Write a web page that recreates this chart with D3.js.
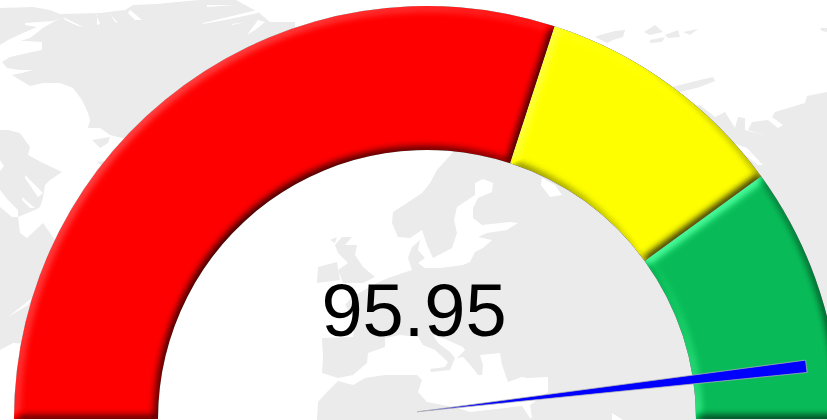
<!DOCTYPE html>
<html>
<head>
<meta charset="utf-8">
<script src="https://cdn.jsdelivr.net/npm/d3@7/dist/d3.min.js"></script>
<style>
html,body{margin:0;padding:0;background:#fff;overflow:hidden}
svg{display:block}
</style>
</head>
<body>
<svg id="c" width="827" height="420"></svg>
<script>
// gauge data
const bandStops = [0, 60, 80, 100];
const bandColors = ["#ff0000", "#ffff00", "#08bc58"];
const gaugeValue = 95.95;
const gaugeLabel = "95.95";

// decorative backdrop: land silhouettes
const landShapes = [
  [[0,8],[33,7],[50,10],[60,14],[100,13],[125,10],[133,5],[157,4],[177,2],[200,0],[236,0],[258,12],[270,22],[295,22],[295,60],[130,140],[110,135],[100,128],[88,128],[90,120],[88,113],[82,100],[73,88],[60,83],[43,83],[30,86],[20,80],[12,75],[22,73],[33,70],[20,70],[7,68],[2,62],[10,57],[32,52],[42,50],[42,42],[10,40],[0,45]],
  [[92,140],[110,137],[108,143],[100,148]],
  [[97,162],[110,160],[103,167]],
  [[0,130],[8,130],[20,133],[30,147],[28,155],[43,163],[62,172],[50,180],[45,185],[43,198],[40,207],[35,210],[18,217],[20,233],[27,238],[43,223],[55,240],[100,260],[40,345],[13,343],[0,350]],
  [[600,35],[615,31],[625,30],[623,37],[613,40],[607,43],[595,37]],
  [[644,32],[655,25],[663,32],[650,35]],
  [[650,40],[665,37],[662,42],[650,43]],
  [[665,35],[678,30],[680,37],[668,38]],
  [[683,32],[698,29],[690,35]],
  [[820,28],[827,28],[827,32],[822,31]],
  [[672,87],[700,80],[713,77],[715,81],[700,87],[680,92]],
  [[318,267],[337,262],[340,280],[317,283]],
  [[342,237],[352,237],[345,245],[357,245],[355,255],[363,267],[375,277],[363,283],[343,283],[338,270],[348,263],[338,253],[335,245]],
  [[330,240],[337,237],[335,243]],
  [[827,92],[807,96],[805,103],[775,112],[772,117],[783,125],[778,128],[768,120],[752,122],[748,130],[763,135],[745,130],[745,118],[738,117],[735,128],[725,112],[715,117],[700,105],[560,130],[455,150],[437,170],[430,183],[422,193],[407,203],[393,212],[392,223],[398,237],[410,238],[422,230],[427,245],[433,258],[425,258],[418,250],[420,240],[412,247],[408,258],[412,270],[388,278],[377,283],[352,297],[345,305],[355,320],[353,337],[322,338],[323,358],[322,373],[338,378],[338,381],[327,392],[318,402],[317,420],[827,420]]
];
const seaShapes = [
  [[25,23],[53,21],[60,18],[43,28],[30,38],[17,42],[0,48],[0,45],[8,40],[23,33],[37,27],[25,25]],
  [[63,17],[83,27],[78,26],[65,20]],
  [[96,14],[100,24],[97,25],[97,15]],
  [[110,14],[118,23],[115,22]],
  [[130,10],[142,20],[135,20],[128,13]],
  [[203,23],[257,10],[258,13],[225,20],[203,24]],
  [[207,5],[235,5],[207,7]],
  [[232,24],[245,22],[232,25]],
  [[247,35],[258,20],[265,22],[255,30]],
  [[25,175],[43,193],[38,197],[25,178]],
  [[22,197],[35,208],[30,208],[22,200]],
  [[0,190],[8,200],[18,210],[18,217],[12,217],[0,207]],
  [[0,160],[4,166],[0,171]],
  [[8,317],[32,298],[28,305]],
  [[433,258],[452,248],[457,233],[454,220],[457,207],[475,195],[475,183],[483,179],[493,183],[492,192],[478,198],[473,208],[473,218],[482,225],[510,222],[518,223],[507,230],[487,233],[478,237],[492,240],[483,248],[475,252],[470,262],[463,265],[440,268],[425,268],[418,263],[425,258]],
  [[542,178],[555,185],[562,195],[550,197],[541,185]],
  [[733,143],[747,148],[763,165],[758,165],[745,155]],
  [[338,378],[353,375],[367,363],[368,353],[385,347],[385,338],[400,335],[418,337],[423,345],[435,350],[448,362],[445,367],[430,369],[431,372],[450,370],[455,358],[450,352],[438,343],[433,335],[445,339],[463,347],[465,350],[457,358],[463,357],[472,367],[478,375],[482,375],[483,365],[480,355],[500,353],[502,365],[508,382],[522,377],[527,378],[548,377],[548,392],[530,405],[532,418],[530,418],[522,406],[470,412],[458,408],[427,402],[418,392],[422,380],[417,375],[400,375],[385,375],[365,378],[353,385],[338,381]],
  [[612,413],[623,420],[612,420]]
];

const W = 827, H = 420, cx = 427, cy = 419, rOuter = 413, rInner = 269;
const svg = d3.select("#c");

const toPath = d3.line().curve(d3.curveLinear);
const g0 = svg.append("g");
g0.append("rect").attr("width", W).attr("height", H).attr("fill", "#fff");
g0.selectAll("path.l").data(landShapes).join("path").attr("class","l")
  .attr("d", d => toPath(d) + "Z").attr("fill", "#ebebeb");
g0.selectAll("path.s").data(seaShapes).join("path").attr("class","s")
  .attr("d", d => toPath(d) + "Z").attr("fill", "#fff");

// bevel filter (region in the local frame of the gauge group)
const defs = svg.append("defs");
const f = defs.append("filter").attr("id","bevel")
  .attr("filterUnits","userSpaceOnUse")
  .attr("x",-460).attr("y",-450).attr("width",920).attr("height",500)
  .attr("color-interpolation-filters","sRGB");
f.append("feGaussianBlur").attr("in","SourceAlpha").attr("stdDeviation",4.4).attr("result","b");
const dl = f.append("feDiffuseLighting").attr("in","b").attr("surfaceScale",3.2)
  .attr("diffuseConstant",1).attr("lighting-color","#fff").attr("result","d");
dl.append("feDistantLight").attr("azimuth",225).attr("elevation",45);
const ramp = (node, slope, intercept) => {
  ["feFuncR","feFuncG","feFuncB"].forEach(n =>
    node.append(n).attr("type","linear").attr("slope",slope).attr("intercept",intercept));
  node.append("feFuncA").attr("type","identity");
};
ramp(f.append("feComponentTransfer").attr("in","d").attr("result","shade"), 1.414, 0);
ramp(f.append("feComponentTransfer").attr("in","d").attr("result","glow"), 0.9, -0.636);
f.append("feComposite").attr("in","SourceGraphic").attr("in2","shade")
  .attr("operator","arithmetic").attr("k1",1).attr("k2",0).attr("k3",0).attr("k4",0).attr("result","m");
f.append("feComposite").attr("in","m").attr("in2","glow")
  .attr("operator","arithmetic").attr("k1",0).attr("k2",1).attr("k3",1).attr("k4",0).attr("result","lit");
f.append("feComposite").attr("in","lit").attr("in2","SourceAlpha").attr("operator","in");

// bands
const angle = d3.scaleLinear().domain([0,100]).range([-Math.PI/2, Math.PI/2]);
const arc = d3.arc().innerRadius(rInner).outerRadius(rOuter);
const bands = d3.pairs(bandStops).map((p,i) => ({from:p[0], to:p[1], color:bandColors[i]}));
svg.append("g").attr("transform",`translate(${cx},${cy})`)
  .selectAll("path").data(bands).join("path")
  .attr("d", d => arc({startAngle:angle(d.from), endAngle:angle(d.to)}))
  .attr("fill", d => d.color)
  .attr("filter","url(#bevel)");

// value
svg.append("text").attr("x",414).attr("y",336).attr("text-anchor","middle")
  .attr("font-family","'Liberation Sans',Arial,sans-serif").attr("font-size",74)
  .attr("fill","#000").text(gaugeLabel);

// needle
const needleAngle = d3.scaleLinear().domain([0,100]).range([-180, 0.65]);
const needle = d3.path();
needle.moveTo(0,0); needle.lineTo(392,-6.2); needle.lineTo(392,6.2); needle.closePath();
svg.append("path").attr("d", needle.toString())
  .attr("transform",`translate(417,411.8) rotate(${needleAngle(gaugeValue)})`)
  .attr("fill","#0000ff").attr("stroke","#b4b4b4").attr("stroke-width",0.7);
</script>
</body>
</html>
